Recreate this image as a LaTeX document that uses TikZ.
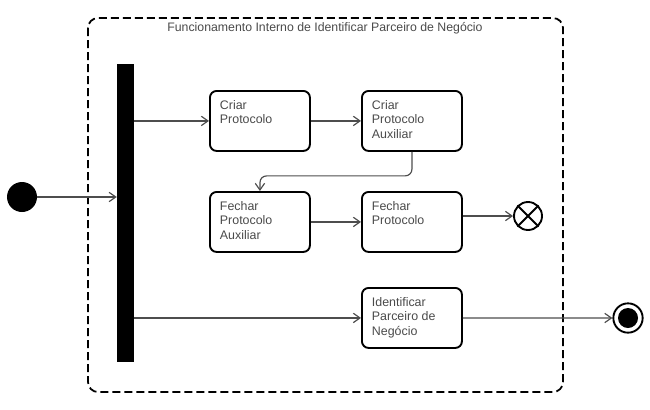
\documentclass[tikz,border=0pt]{standalone}
\usepackage{fontspec}
\setmainfont{Liberation Sans}
\usetikzlibrary{arrows.meta}

\definecolor{textoCinza}{HTML}{4A4A4A}
\definecolor{linhaCinza}{HTML}{4D4D4D}

\newcommand{\acaoTexto}[1]{\parbox[t][1.24cm][t]{2.4cm}{\raggedright #1}}

\tikzset{
    acao/.style = {draw, line width = 1.6pt, rounded corners = 2mm,
        anchor = north west, inner xsep = 0.3cm, inner ysep = 0.28cm,
        text = textoCinza, font = \fontsize{10.6}{12.3}\selectfont},
    fluxo/.style = {draw = linhaCinza, line width = 1pt,
        -{Straight Barb[length = 2mm, width = 2.8mm]}},
    quadro/.style = {line width = 1.5pt, rounded corners = 3mm,
        dash pattern = on 2.4mm off 1.2mm},
}

\begin{document}
\begin{tikzpicture}[x = 0.03cm, y = -0.03cm]

    \useasboundingbox (0,0) rectangle (650,409);

    %% Drawing the dashed frame
    \draw [quadro]
    (88,18) rectangle (563,392)
    ;

    \node [text = textoCinza, font = \fontsize{10.5}{12}\selectfont]
    (titulo) at (325,28) {Funcionamento Interno de Identificar Parceiro de Negócio};

    %% Drawing start, fork bar and ends
    \node [circle, fill, minimum size = 0.9cm, inner sep = 0] (inicio) at (22,197) {};

    \node [fill, minimum width = 0.51cm, minimum height = 8.94cm, inner sep = 0]
    (barra) at (125.5,213) {};

    \node [circle, draw, line width = 1.6pt, minimum size = 0.84cm, inner sep = 0]
    (fluxofim) at (528,216) {};
    \draw [line width = 1.6pt]
    (fluxofim.45) -- (fluxofim.225)
    (fluxofim.135) -- (fluxofim.315)
    ;

    \node [circle, draw, line width = 1.6pt, minimum size = 0.88cm, inner sep = 0,
        path picture = {\fill (path picture bounding box.center) circle (0.3cm);}]
    (fim) at (628,318) {};

    %% Drawing the actions
    \node [acao] (criar) at (209,90) {\acaoTexto{Criar\\Protocolo}};
    \node [acao] (criaraux) at (361,90) {\acaoTexto{Criar\\Protocolo\\Auxiliar}};
    \node [acao] (fecharaux) at (209,191) {\acaoTexto{Fechar\\Protocolo\\Auxiliar}};
    \node [acao] (fechar) at (361,191) {\acaoTexto{Fechar\\Protocolo}};
    \node [acao] (identificar) at (361,287) {\acaoTexto{Identificar\\Parceiro de\\Negócio}};

    %% Drawing the arrows
    \draw [fluxo] (inicio) -- (inicio -| barra.west);
    \draw [fluxo] (criar.west -| barra.east) -- (criar);
    \draw [fluxo] (criar) -- (criaraux);
    \draw [fluxo, rounded corners = 2mm]
    (criaraux.south) -- ++(0,24) -| (fecharaux.north)
    ;
    \draw [fluxo] (fecharaux) -- (fechar);
    \draw [fluxo] (fechar.east |- fluxofim) -- (fluxofim);
    \draw [fluxo] (identificar.west -| barra.east) -- (identificar);
    \draw [fluxo] (identificar) -- (fim);

\end{tikzpicture}
\end{document}
